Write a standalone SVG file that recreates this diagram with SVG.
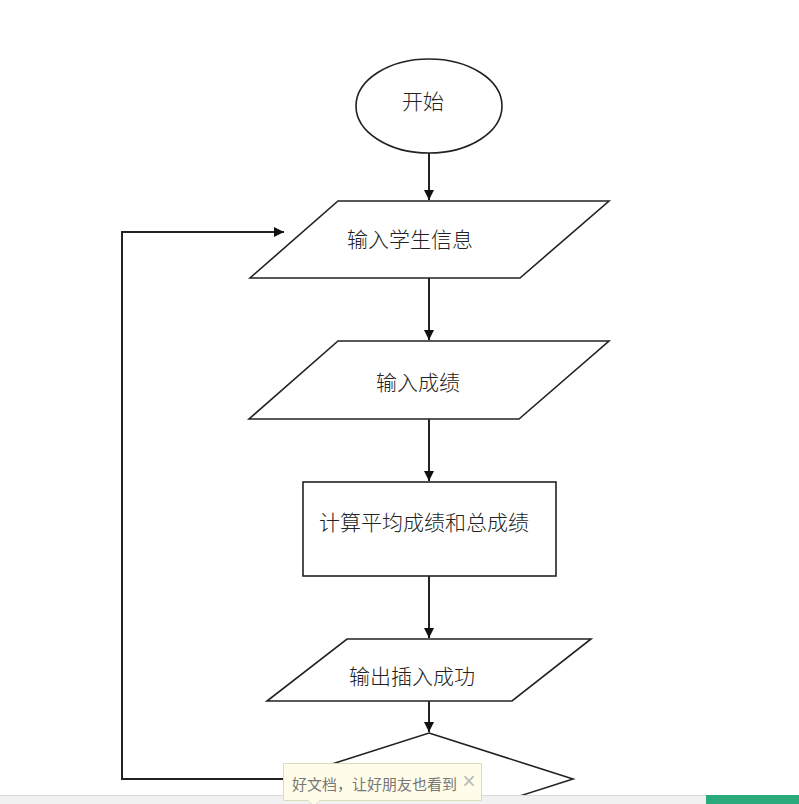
<svg xmlns="http://www.w3.org/2000/svg" width="799" height="804" viewBox="0 0 799 804">
<style>
.shape{fill:#fff;stroke:#222;stroke-width:1.6}
.lbl{font-family:"Liberation Serif","Noto Sans CJK SC",serif;font-size:21px;fill:#222;text-anchor:middle;dominant-baseline:central;font-weight:300}
.conn{fill:none;stroke:#222;stroke-width:2}
.tip{font-family:"Noto Sans CJK SC",sans-serif;font-size:15px;fill:#777;dominant-baseline:central}
</style>
<defs>
<marker id="ah" viewBox="0 0 10 10" refX="10" refY="5" markerWidth="10" markerHeight="10" markerUnits="userSpaceOnUse" orient="auto">
<path d="M0,0 L10,5 L0,10 z" fill="#111"/>
</marker>
</defs>
<rect width="799" height="804" fill="#fff"/>
<g id="start">
<ellipse class="shape" cx="429" cy="106" rx="73" ry="47"/>
<text class="lbl" x="423" y="102">开始</text>
</g>
<g id="input-info">
<polygon class="shape" points="338,201 609,201 520,278 250,278"/>
<text class="lbl" x="410" y="240">输入学生信息</text>
</g>
<g id="input-score">
<polygon class="shape" points="338,341 609,341 519,419 249,419"/>
<text class="lbl" x="418" y="383">输入成绩</text>
</g>
<g id="compute">
<rect class="shape" x="303" y="482" width="253" height="94"/>
<text class="lbl" x="424" y="523">计算平均成绩和总成绩</text>
</g>
<g id="output">
<polygon class="shape" points="347,639 591,639 512,701 267,701"/>
<text class="lbl" x="412" y="677">输出插入成功</text>
</g>
<g id="decision">
<polygon class="shape" points="429,733 573,779 429,825 285,779"/>
</g>
<g id="connectors">
<line class="conn" x1="429" y1="153" x2="429" y2="200" marker-end="url(#ah)"/>
<line class="conn" x1="429" y1="278" x2="429" y2="340" marker-end="url(#ah)"/>
<line class="conn" x1="429" y1="419" x2="429" y2="481" marker-end="url(#ah)"/>
<line class="conn" x1="429" y1="576" x2="429" y2="638" marker-end="url(#ah)"/>
<line class="conn" x1="429" y1="701" x2="429" y2="732" marker-end="url(#ah)"/>
<polyline class="conn" points="285,779 122,779 122,232 284,232" marker-end="url(#ah)"/>
</g>
<g id="page-bar">
<rect x="0" y="795" width="799" height="9" fill="#f1f1f1"/>
<line x1="0" y1="795.5" x2="706" y2="795.5" stroke="#d9d9d9" stroke-width="1"/>
<rect x="706" y="795" width="93" height="9" fill="#2aa97a"/>
</g>
<g id="tooltip">
<path d="M283.5,763.5 H481.5 V800.5 H320 L314,806 L308,800.5 H283.5 Z" fill="#fffdea" stroke="#dedbb8" stroke-width="1"/>
<text class="tip" x="292" y="783">好文档，让好朋友也看到</text>
<text x="469" y="781" font-family="Liberation Sans,sans-serif" font-size="23" fill="#bbb" text-anchor="middle" dominant-baseline="central">×</text>
</g>
</svg>
